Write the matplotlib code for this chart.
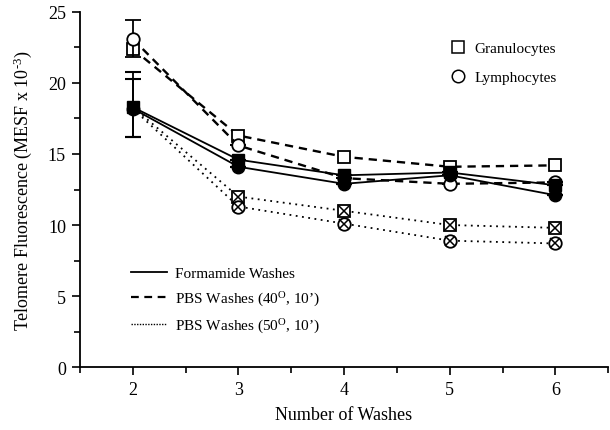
import matplotlib
matplotlib.use("Agg")
import matplotlib.pyplot as plt
from matplotlib.lines import Line2D
from matplotlib.ticker import MultipleLocator

plt.rcParams['font.family'] = ['Liberation Serif', 'DejaVu Serif']
plt.rcParams['mathtext.fontset'] = 'custom'
plt.rcParams['mathtext.rm'] = 'Liberation Serif'
plt.rcParams['mathtext.it'] = 'Liberation Serif:italic'
plt.rcParams['mathtext.bf'] = 'Liberation Serif:bold'

washes = [2, 3, 4, 5, 6]

# Granulocytes (squares)
gran_formamide = [18.3, 14.6, 13.5, 13.7, 12.8]
gran_pbs40 = [22.4, 16.3, 14.8, 14.1, 14.2]
gran_pbs50 = [18.3, 12.0, 11.0, 10.0, 9.8]
# Lymphocytes (circles)
lymph_formamide = [18.2, 14.1, 12.9, 13.5, 12.1]
lymph_pbs40 = [23.1, 15.6, 13.3, 12.9, 13.0]
lymph_pbs50 = [18.2, 11.3, 10.1, 8.9, 8.7]

# error bars at first point only (lower, upper)
err_gran_form = ([2.1, 0, 0, 0, 0], [2.5, 0, 0, 0, 0])
err_lymph_form = ([2.0, 0, 0, 0, 0], [2.1, 0, 0, 0, 0])
err_lymph_pbs40 = ([1.3, 0, 0, 0, 0], [1.3, 0, 0, 0, 0])

fig = plt.figure(figsize=(6.10, 4.31), dpi=100)
ax = fig.add_axes([0.131, 0.146, 0.866, 0.824])

lw = 1.3
ms = 8
ebkw = dict(ecolor='black', elinewidth=1.3, capsize=6, capthick=1.5)
later = [1, 2, 3, 4]

# PBS 50 (dotted, crossed) - drawn first, no marker at first point
ax.plot(washes, gran_pbs50, color='black', ls=(0, (1, 2.5)), lw=lw, markevery=later,
        marker='s', ms=ms, mfc='white', mec='black', mew=1.3, zorder=2)
ax.plot(washes, gran_pbs50, ls='none', marker='x', ms=ms - 1, mec='black',
        mew=1.1, markevery=later, zorder=2.5)
ax.plot(washes, lymph_pbs50, color='black', ls=(0, (1, 2.5)), lw=lw, markevery=later,
        marker='o', ms=ms + 1, mfc='white', mec='black', mew=1.3, zorder=2)
ax.plot(washes, lymph_pbs50, ls='none', marker='x', ms=ms - 1, mec='black',
        mew=1.1, markevery=later, zorder=2.5)
# PBS 40 (dashed, open)
ax.errorbar(washes, gran_pbs40, color='black', ls=(0, (3.5, 2.5)), lw=lw + 0.4,
            marker='s', ms=ms, mfc='white', mec='black', mew=1.3, zorder=3)
ax.errorbar(washes, lymph_pbs40, yerr=err_lymph_pbs40, color='black', ls=(0, (3.5, 2.5)),
            lw=lw + 0.4, marker='o', ms=ms + 1, mfc='white', mec='black', mew=1.3,
            zorder=3.5, **ebkw)
# Formamide (solid, filled)
ax.errorbar(washes, gran_formamide, yerr=err_gran_form, color='black', ls='-', lw=lw,
            marker='s', ms=ms, mfc='black', mec='black', zorder=4, **ebkw)
ax.errorbar(washes, lymph_formamide, yerr=err_lymph_form, color='black', ls='-', lw=lw,
            marker='o', ms=ms + 1, mfc='black', mec='black', zorder=4, **ebkw)

ax.set_xlim(1.5, 6.5)
ax.set_ylim(0, 25)
ax.xaxis.set_major_locator(MultipleLocator(1))
ax.xaxis.set_minor_locator(MultipleLocator(0.5))
ax.yaxis.set_major_locator(MultipleLocator(5))
ax.yaxis.set_minor_locator(MultipleLocator(2.5))
ax.tick_params(which='major', direction='out', length=6, width=1.2, labelsize=13, pad=4)
ax.tick_params(which='minor', direction='out', length=4, width=1.2)
for s in ['top', 'right']:
    ax.spines[s].set_visible(False)
for s in ['left', 'bottom']:
    ax.spines[s].set_linewidth(1.3)

ax.set_xlabel('Number of Washes', fontsize=13, labelpad=6)
ax.set_ylabel('Telomere Fluorescence (MESF x 10$^{\u20103}$)', fontsize=13, labelpad=10)

# Cell type legend
h1 = [Line2D([], [], ls='none', marker='s', ms=8, mfc='white', mec='black', mew=1.1),
      Line2D([], [], ls='none', marker='o', ms=9, mfc='white', mec='black', mew=1.1)]
leg1 = ax.legend(h1, ['Granulocytes', 'Lymphocytes'], loc='upper left',
                 bbox_to_anchor=(0.672, 0.955), frameon=False, fontsize=11,
                 handletextpad=0.5, labelspacing=1.0, handlelength=1.2)
ax.add_artist(leg1)

# Wash type legend
h2 = [Line2D([], [], color='black', ls='-', lw=1.3),
      Line2D([], [], color='black', ls=(0, (3.5, 2.5)), lw=1.6),
      Line2D([], [], color='black', ls=(0, (1, 1)), lw=1.0)]
ax.legend(h2, ['Formamide Washes', 'PBS Washes (40$^{\\rm O}$, 10\u2019)',
               'PBS Washes (50$^{\\rm O}$, 10\u2019)'],
          loc='upper left', bbox_to_anchor=(0.07, 0.322), frameon=False, fontsize=11,
          handlelength=2.4, handletextpad=0.5, labelspacing=0.6)

fig.savefig('out.png', dpi=100)
